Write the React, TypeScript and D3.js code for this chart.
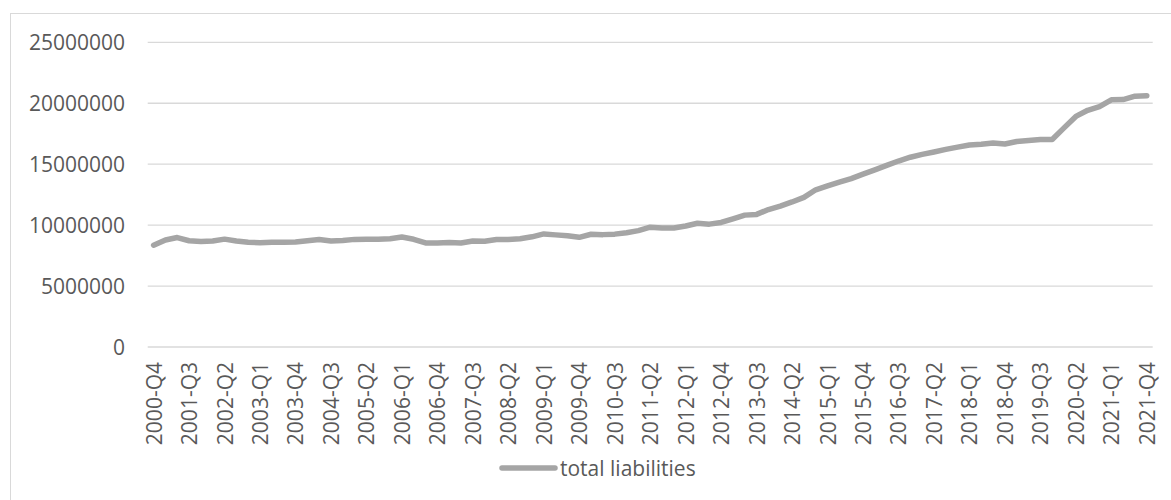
import React from "react";
import * as d3 from "d3";

// Quarterly periods from 2000-Q4 to 2021-Q4
const quarters: string[] = (() => {
  const out: string[] = ["2000-Q4"];
  for (let y = 2001; y <= 2021; y++) {
    for (let q = 1; q <= 4; q++) out.push(`${y}-Q${q}`);
  }
  return out;
})();

// Total liabilities per quarter
const totalLiabilities: number[] = [
  8350000, 8780000, 8980000, 8720000, 8660000, 8700000, 8850000, 8700000,
  8600000, 8560000, 8600000, 8600000, 8620000, 8720000, 8820000, 8700000,
  8740000, 8830000, 8840000, 8840000, 8880000, 9020000, 8840000, 8540000,
  8540000, 8580000, 8540000, 8700000, 8680000, 8820000, 8830000, 8880000,
  9040000, 9280000, 9200000, 9120000, 9000000, 9250000, 9220000, 9260000,
  9380000, 9550000, 9830000, 9770000, 9760000, 9930000, 10150000, 10080000,
  10220000, 10520000, 10820000, 10880000, 11280000, 11560000, 11900000, 12280000,
  12900000, 13220000, 13520000, 13820000, 14180000, 14530000, 14900000, 15260000,
  15570000, 15800000, 16000000, 16210000, 16400000, 16570000, 16640000, 16740000,
  16660000, 16860000, 16940000, 17020000, 17030000, 17980000, 18920000, 19420000,
  19720000, 20280000, 20300000, 20580000, 20620000,
];

const yTicks: number[] = [0, 5000000, 10000000, 15000000, 20000000, 25000000];
const seriesName = "total liabilities";

const W = 1171;
const H = 500;
const plot = { left: 147.7, right: 1152.7, top: 42.3, bottom: 347 };
const font = "'Open Sans', sans-serif";
const textColor = "#595959";
const gridColor = "#d9d9d9";
const lineColor = "#a5a5a5";

export default function App() {
  const x = d3
    .scalePoint<string>()
    .domain(quarters)
    .range([plot.left, plot.right])
    .padding(0.5);
  const y = d3.scaleLinear().domain([0, 25000000]).range([plot.bottom, plot.top]);

  const line = d3
    .line<number>()
    .x((_, i) => x(quarters[i]) as number)
    .y((d) => y(d));

  const tickQuarters = quarters.filter((_, i) => i % 3 === 0);

  return (
    <svg
      width={W}
      height={H}
      style={{ position: "absolute", left: 0, top: 0, background: "#fff" }}
      fontFamily={font}
    >
      <rect x={10.5} y={13.5} width={1170} height={500} fill="#fff" stroke={gridColor} strokeWidth={1} />

      {yTicks.map((t) => (
        <g key={t}>
          <line x1={plot.left} x2={plot.right} y1={y(t)} y2={y(t)} stroke={gridColor} strokeWidth={1.3} />
          <text
            x={125}
            y={y(t)}
            textAnchor="end"
            dominantBaseline="central"
            fontSize={21}
            fill={textColor}
          >
            {t}
          </text>
        </g>
      ))}

      {tickQuarters.map((q) => (
        <text
          key={q}
          transform={`translate(${x(q)},362) rotate(-90)`}
          textAnchor="end"
          dominantBaseline="central"
          fontSize={21}
          fill={textColor}
        >
          {q}
        </text>
      ))}

      <path
        d={line(totalLiabilities) ?? ""}
        fill="none"
        stroke={lineColor}
        strokeWidth={5.5}
        strokeLinejoin="round"
        strokeLinecap="round"
      />

      <line x1={502} x2={555} y1={468} y2={468} stroke={lineColor} strokeWidth={5.5} strokeLinecap="round" />
      <text x={560} y={468} dominantBaseline="central" fontSize={21} fill={textColor}>
        {seriesName}
      </text>
    </svg>
  );
}
